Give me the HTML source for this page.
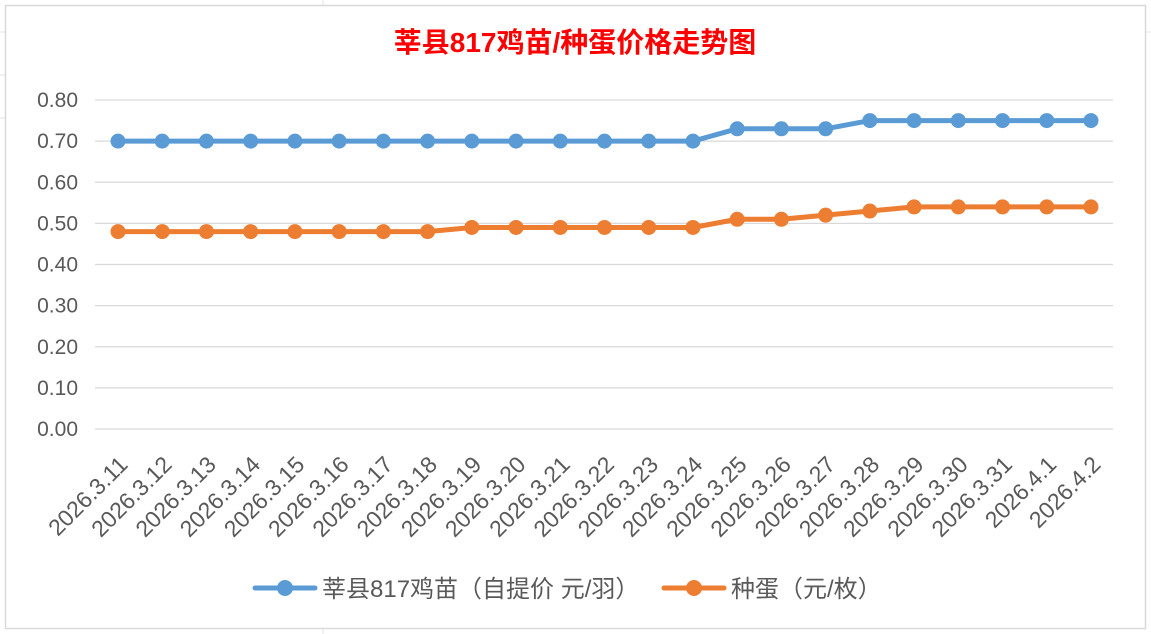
<!DOCTYPE html>
<html><head><meta charset="utf-8"><style>
html,body{margin:0;padding:0;background:#fff;}
svg{display:block;}
text{font-family:"Liberation Sans","Noto Sans CJK SC",sans-serif;}
</style></head><body>
<svg id="c" width="1151" height="634" xmlns="http://www.w3.org/2000/svg">
<rect x="0" y="0" width="1151" height="634" fill="#fff"/>
<g stroke="#e3e3e3" stroke-width="1">
<line x1="0" y1="32" x2="5" y2="32"/><line x1="0" y1="75" x2="5" y2="75"/><line x1="0" y1="118" x2="5" y2="118"/>
<line x1="323" y1="0" x2="323" y2="5"/><line x1="1146" y1="32" x2="1151" y2="32"/>
<line x1="323" y1="629" x2="323" y2="634"/>
</g>
<rect x="5.5" y="5.5" width="1140" height="623" fill="#fff" stroke="#d9d9d9" stroke-width="1.5"/>
<text x="575" y="52" text-anchor="middle" font-size="28" font-weight="bold" fill="#ff0000">莘县817鸡苗/种蛋价格走势图</text>
<g id="grid"></g>
<g id="ser"></g>
<g id="lab"></g>
<g>
<line x1="255" y1="588" x2="315" y2="588" stroke="#5b9bd5" stroke-width="5" stroke-linecap="round"/>
<circle cx="285" cy="588" r="8" fill="#5b9bd5"/>
<text x="322" y="597" font-size="24" fill="#595959">莘县817鸡苗（自提价 元/羽）</text>
<line x1="664" y1="588" x2="724" y2="588" stroke="#ed7d31" stroke-width="5" stroke-linecap="round"/>
<circle cx="694" cy="588" r="8" fill="#ed7d31"/>
<text x="731" y="597" font-size="24" fill="#595959">种蛋（元/枚）</text>
</g>
</svg>
<script>
var ns="http://www.w3.org/2000/svg";
function el(p,t,a,tx){var e=document.createElementNS(ns,t);for(var k in a)e.setAttribute(k,a[k]);if(tx)e.textContent=tx;p.appendChild(e);return e;}
var g=document.getElementById('grid'),s=document.getElementById('ser'),l=document.getElementById('lab');
function Y(v){return 429-v*411.25;}
for(var i=0;i<=8;i++){var y=Y(i/10);el(g,'line',{x1:95,x2:1113,y1:y,y2:y,stroke:'#d9d9d9','stroke-width':1.3});
el(g,'text',{x:78,y:y+7,'text-anchor':'end','font-size':21,fill:'#595959'},(i/10).toFixed(2));}
var dates=[];for(var d=11;d<=31;d++)dates.push('2026.3.'+d);dates.push('2026.4.1','2026.4.2');
var b=[],o=[];
for(var i=0;i<23;i++){b.push(i<14?0.70:(i<17?0.73:0.75));
o.push(i<8?0.48:i<14?0.49:i<16?0.51:i<17?0.52:i<18?0.53:0.54);}
function X(i){return 118+i*44.227;}
[[b,'#5b9bd5'],[o,'#ed7d31']].forEach(function(sr){var p='';sr[0].forEach(function(v,i){p+=(i?'L':'M')+X(i)+' '+Y(v);});
el(s,'path',{d:p,fill:'none',stroke:sr[1],'stroke-width':5,'stroke-linejoin':'round'});
sr[0].forEach(function(v,i){el(s,'circle',{cx:X(i),cy:Y(v),r:7.5,fill:sr[1]});});});
dates.forEach(function(t,i){var x=X(i)+11,y=466;el(l,'text',{x:x,y:y,'text-anchor':'end','font-size':23,fill:'#595959',transform:'rotate(-45 '+x+' '+y+')'},t);});
</script>
</body></html>
